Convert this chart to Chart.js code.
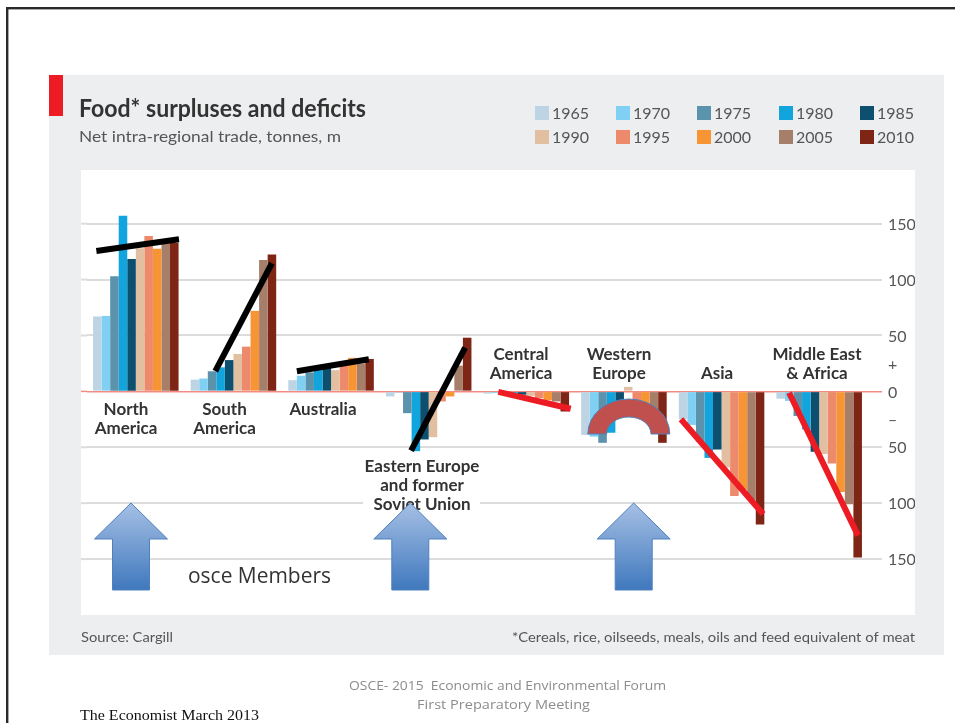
<!DOCTYPE html>
<html>
<head>
<meta charset="utf-8">
<style>html,body{margin:0;padding:0;background:#fff;overflow:hidden}canvas{display:block}</style>
<script src="https://cdn.jsdelivr.net/npm/chart.js@4"></script>
</head>
<body>
<canvas id="c" width="955" height="723"></canvas>
<script>
const regions = ["North America","South America","Australia","Eastern Europe and former Soviet Union","Central America","Western Europe","Asia","Middle East & Africa"];
const years = ["1965","1970","1975","1980","1985","1990","1995","2000","2005","2010"];
const yearColors = ["#bcd4e4","#7fd0f3","#5b93ad","#12a4dd","#0d4f6e","#e2bfa0","#ec8a6b","#f79433","#a57f6a","#7f2515"];
const v1965 = [67,10.5,10,-4.5,-2,-39,-25,-6.5];
const v1970 = [67.5,11.5,14,-1,-1.5,-40.5,-30,-8.5];
const v1975 = [103,18,17,-19.5,-1,-46,-45,-22];
const v1980 = [157,21.5,19,-53.5,-2,-37,-59.5,-34];
const v1985 = [118.5,28,21,-43,-3,-22,-52,-54];
const v1990 = [128,33.5,19,-41,-4,4,-68,-56];
const v1995 = [139,40,23,-9,-6,-15,-93.5,-64.5];
const v2000 = [127.5,72,30,-4.5,-8,-18,-88,-90];
const v2005 = [133,117.5,25,23,-9,-30,-97,-101];
const v2010 = [133,122.5,29,48,-18,-46,-119,-148.5];
const seriesValues = [v1965,v1970,v1975,v1980,v1985,v1990,v1995,v2000,v2005,v2010];
const tickValues = [-150,-100,-50,-25,0,25,50,100,150];

// hand-drawn strokes from the slide, as [group position, value] pairs
const blackStrokes = [[[-0.404,125.6],[0.442,136]],[[0.814,18.2],[1.394,114.6]],[[1.65,18],[2.387,28.7]],[[2.82,-53],[3.373,39.1]]];
const redStrokes = [[[3.713,-0.5],[4.455,-15.5]],[[5.584,-25],[6.426,-109.7]],[[6.692,-1.2],[7.398,-129]]];

// region label placement
const regionLabels = [
 {lines:["North","America"],cx:126,y:[409,428]},
 {lines:["South","America"],cx:224.5,y:[409,428]},
 {lines:["Australia"],cx:323,y:[409]},
 {lines:["Eastern Europe","and former","Soviet Union"],cx:422,y:[466,485,504]},
 {lines:["Central","America"],cx:521,y:[354,373]},
 {lines:["Western","Europe"],cx:619,y:[354,373]},
 {lines:["Asia"],cx:717,y:[373]},
 {lines:["Middle East","& Africa"],cx:817,y:[354,373]}
];
const arrowCentres = [131,410.3,633.7];
const legendX = [535,616,697,779,860];
const legendY = [113,137];

function txt(ctx,s,x,y,font,color,align,w){
  ctx.font=font;ctx.fillStyle=color;ctx.textAlign=align||'left';ctx.textBaseline='middle';
  y+=1;
  if(w){
    const m=ctx.measureText(s).width;
    ctx.save();
    ctx.translate(x,y);ctx.scale(w/m,1);ctx.fillText(s,0,0);ctx.restore();
  } else ctx.fillText(s,x,y);
}

const slide = {
  id:'slide',
  beforeDraw(chart){
    const c=chart.ctx;
    c.save();
    c.fillStyle='#fff';c.fillRect(0,0,955,723);
    c.fillStyle='#2a2a2a';c.fillRect(6,7,949,2.4);c.fillRect(6,7,2.4,716);
    c.fillStyle='#edeef0';c.fillRect(49,75,895,580);
    c.fillStyle='#fff';c.fillRect(81,170,834,445);
    c.fillStyle='#ed1c24';c.fillRect(49,75,14,41);
    c.restore();
  },
  beforeDatasetsDraw(chart){
    const c=chart.ctx,y=chart.scales.y;
    c.save();
    tickValues.forEach(v=>{
      if(Math.abs(v)===25)return;
      c.strokeStyle=v===0?'#f28b82':'#dcdcdc';c.lineWidth=v===0?1.5:2;
      c.beginPath();c.moveTo(81,y.getPixelForValue(v));c.lineTo(chart.chartArea.left,y.getPixelForValue(v));c.stroke();
    });
    // white knock-out behind the label that overlaps the gridline
    c.fillStyle='#fff';c.fillRect(363,494,117,20);
    c.restore();
  },
  afterDraw(chart){
    const c=chart.ctx,x=chart.scales.x,y=chart.scales.y;
    c.save();
    // heading
    txt(c,"Food* surpluses and deficits",79,108,"bold 24px Lato","#333",'left',287);
    txt(c,"Net intra-regional trade, tonnes, m",79,136,"16px Lato","#555",'left',262);
    // legend
    years.forEach((yr,i)=>{
      const col=i%5,row=Math.floor(i/5);
      c.fillStyle=yearColors[i];c.fillRect(legendX[col],legendY[row]-7,14,14);
      txt(c,yr,legendX[col]+17,legendY[row],"16px Lato","#555");
    });
    // region labels
    regionLabels.forEach(r=>r.lines.forEach((l,i)=>txt(c,l,r.cx,r.y[i],"bold 17px Lato","#333",'center')));
    // footer in panel
    txt(c,"Source: Cargill",81,636,"14px Lato","#555",'left',92);
    txt(c,"*Cereals, rice, oilseeds, meals, oils and feed equivalent of meat",512,636,"14px Lato","#555",'left',403);
    // slide footer
    txt(c,"OSCE- 2015  Economic and Environmental Forum",507.5,685,"13px 'Open Sans'","#8c8c8c",'center',317);
    txt(c,"First Preparatory Meeting",503.5,704,"13px 'Open Sans'","#8c8c8c",'center',173);
    txt(c,"The Economist March 2013",80,715,"14.5px 'Liberation Serif'","#111",'left',179);
    txt(c,"osce Members",188,576,"22px 'Open Sans'","#333",'left',143);
    // strokes
    c.lineCap='butt';c.lineWidth=6;
    const stroke=(s,col)=>{c.strokeStyle=col;c.beginPath();
      c.moveTo(x.getPixelForValue(s[0][0]),y.getPixelForValue(s[0][1]));
      c.lineTo(x.getPixelForValue(s[1][0]),y.getPixelForValue(s[1][1]));c.stroke();};
    blackStrokes.forEach(s=>stroke(s,'#000'));
    redStrokes.forEach(s=>stroke(s,'#ed1c24'));
    // half ring
    c.fillStyle='#c0504d';c.strokeStyle='#4f81bd';c.lineWidth=1;
    c.beginPath();
    c.ellipse(628.8,434,41,35,0,Math.PI,0);
    c.lineTo(651,434);
    c.ellipse(628.8,434,22.2,17,0,0,Math.PI,true);
    c.closePath();c.fill();c.stroke();
    // arrows
    arrowCentres.forEach(a=>{
      const g=c.createLinearGradient(0,503,0,590);
      g.addColorStop(0,'#a6c0e5');g.addColorStop(1,'#3f78bd');
      c.fillStyle=g;c.strokeStyle='#4f81bd';c.lineWidth=1;
      c.beginPath();c.moveTo(a,503);c.lineTo(a+36.5,539);c.lineTo(a+18.5,539);c.lineTo(a+18.5,590);
      c.lineTo(a-18.5,590);c.lineTo(a-18.5,539);c.lineTo(a-36.5,539);c.closePath();c.fill();c.stroke();
    });
    c.restore();
  }
};

new Chart(document.getElementById('c'),{
  type:'bar',
  data:{
    labels:regions,
    datasets:years.map((yr,i)=>({label:yr,data:seriesValues[i],backgroundColor:yearColors[i],borderWidth:0,barPercentage:1,categoryPercentage:0.876}))
  },
  plugins:[slide],
  options:{
    responsive:false,animation:false,
    layout:{padding:{left:87,right:40,top:170,bottom:108}},
    plugins:{legend:{display:false},title:{display:false},tooltip:{enabled:false}},
    scales:{
      x:{display:false},
      y:{
        position:'right',min:-200,max:198,
        afterBuildTicks(s){s.ticks=tickValues.map(v=>({value:v}));},
        afterFit(s){s.width=47;},
        border:{display:false},
        grid:{
          tickLength:14,lineWidth:c=>c.tick&&c.tick.value===0?1.5:2,
          color:c=>{const v=c.tick?c.tick.value:1;return v===0?'#f28b82':Math.abs(v)===25?'rgba(0,0,0,0)':'#dcdcdc';},
          tickColor:c=>{const v=c.tick?c.tick.value:1;return v===0?'#f28b82':Math.abs(v)===25?'rgba(0,0,0,0)':'#dcdcdc';}
        },
        ticks:{
          autoSkip:false,padding:6,labelOffset:1,color:'#555',font:{family:'Lato',size:16},
          callback:v=>v===25?'+':v===-25?'–':String(Math.abs(v))
        }
      }
    }
  }
});
</script>
</body>
</html>
